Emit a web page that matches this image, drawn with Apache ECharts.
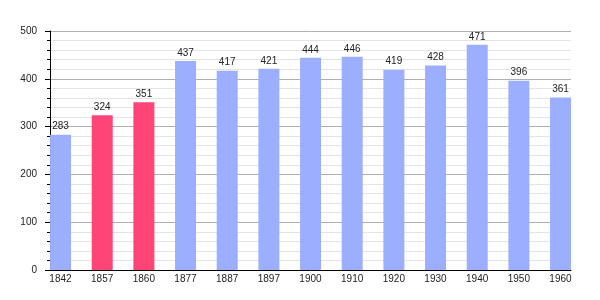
<!DOCTYPE html>
<html><head><meta charset="utf-8">
<script src="https://cdn.jsdelivr.net/npm/echarts@6/dist/echarts.min.js"></script>
<style>html,body{margin:0;padding:0;background:#fff}#c{width:600px;height:300px}</style>
</head><body><div id="c"></div>
<script>
const years = ['1842','1857','1860','1877','1887','1897','1900','1910','1920','1930','1940','1950','1960'];
const population = [283,324,351,437,417,421,444,446,419,428,471,396,361];
const highlighted = [false,true,true,false,false,false,false,false,false,false,false,false,false];
const yTicks = [0,100,200,300,400,500];

const blue = '#9caeff', pink = '#ff4478';
const chart = echarts.init(document.getElementById('c'), null, {renderer:'canvas'});
const font = {fontFamily:'Liberation Sans, Arial, sans-serif', fontSize:10, color:'#222'};
chart.setOption({
  animation:false,
  grid:[
    {left:50, top:31, height:239, width:541.67, containLabel:false},
    {left:50, top:31, height:239, width:521, containLabel:false}
  ],
  xAxis:[
    {type:'category', gridIndex:0, data:years, boundaryGap:true,
     axisLine:{show:false}, axisTick:{show:false},
     axisLabel:Object.assign({margin:4, interval:0, align:'center', padding:[0,20.7,0,0]}, font)},
    {type:'category', gridIndex:1, data:years, axisLine:{show:true, lineStyle:{color:'#000', width:1}},
     axisTick:{show:false}, axisLabel:{show:false}}
  ],
  yAxis:[
    {type:'value', gridIndex:0, min:0, max:500, interval:100, show:false, splitLine:{show:false}},
    {type:'value', gridIndex:1, min:yTicks[0], max:yTicks[yTicks.length-1], interval:100,
     axisLine:{show:true, lineStyle:{color:'#000', width:1}},
     axisTick:{show:true, length:5, lineStyle:{color:'#000'}},
     minorTick:{show:true, splitNumber:5, length:3, lineStyle:{color:'#000'}},
     splitLine:{show:true, lineStyle:{color:'#b0b0b0', width:1}},
     minorSplitLine:{show:true, lineStyle:{color:'#e4e4e4', width:1}},
     axisLabel:Object.assign({margin:13}, font)}
  ],
  series:[
    {type:'bar', xAxisIndex:0, yAxisIndex:0, barWidth:21, barGap:'-2%', z:3,
     data: population.map((v,i)=>({value:v, itemStyle:{color: highlighted[i]?pink:blue}})),
     label:{show:true, position:'top', distance:3, fontFamily:font.fontFamily, fontSize:10, color:'#222'}},
    {type:'bar', xAxisIndex:0, yAxisIndex:0, barWidth:21, data: years.map(()=>'-'), silent:true}
  ]
});
</script></body></html>
